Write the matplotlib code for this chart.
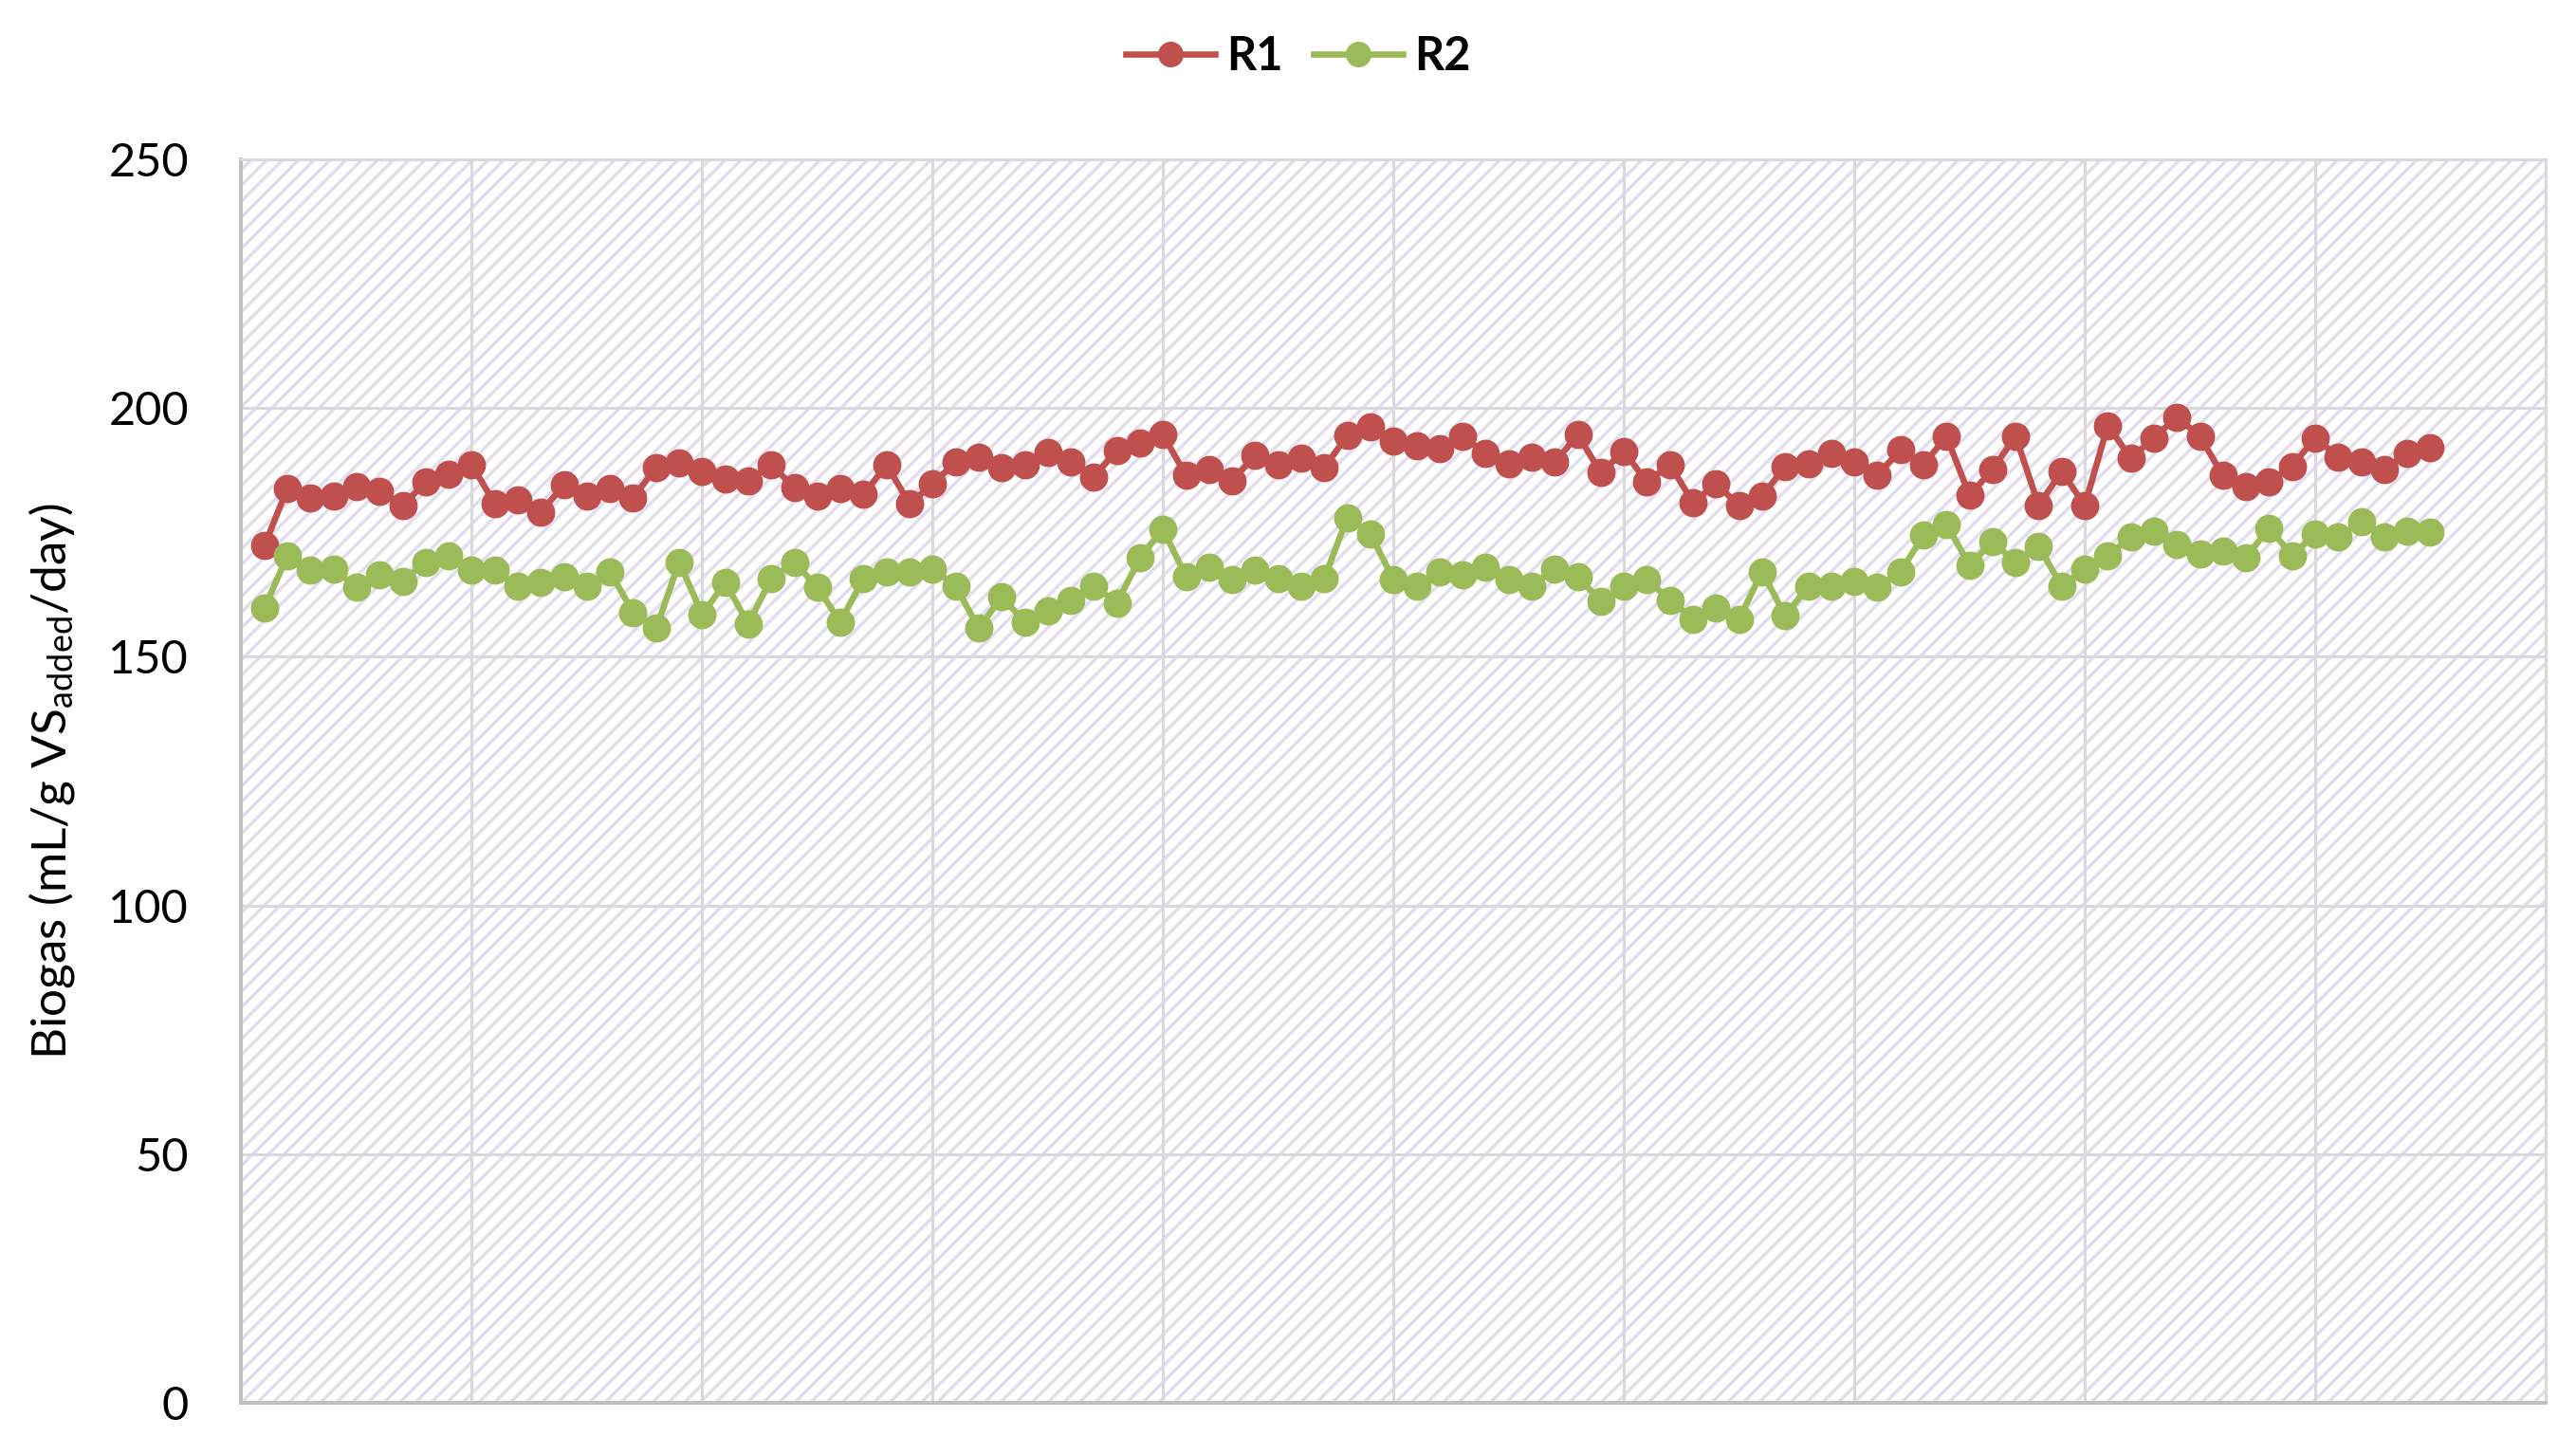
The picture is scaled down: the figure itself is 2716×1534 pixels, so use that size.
import numpy as np
import matplotlib
matplotlib.use("Agg")
import matplotlib.pyplot as plt
from matplotlib.patches import Rectangle

plt.rcParams['font.family'] = ['Lato', 'DejaVu Sans']
plt.rcParams['mathtext.fontset'] = 'custom'
plt.rcParams['mathtext.rm'] = 'Lato'
plt.rcParams['mathtext.it'] = 'Lato'
plt.rcParams['hatch.linewidth'] = 2.6

series_names = ["R1", "R2"]
r1 = [172.3, 183.9, 182.0, 182.3, 184.2, 183.2, 180.4, 185.1, 186.7, 188.6,
      180.7, 181.6, 179.1, 184.5, 182.3, 183.9, 182.0, 188.0, 188.9, 187.3,
      185.8, 185.4, 188.6, 184.0, 182.3, 183.9, 182.6, 188.6, 180.7, 184.8,
      189.1, 190.2, 188.0, 188.6, 191.0, 189.1, 186.2, 191.5, 193.0, 194.6,
      186.4, 187.7, 185.4, 190.5, 188.6, 189.9, 188.0, 194.5, 196.2, 193.4,
      192.4, 191.8, 194.3, 190.8, 188.7, 190.2, 189.1, 194.6, 187.0, 191.3,
      185.1, 188.6, 181.0, 184.8, 180.4, 182.3, 188.3, 188.7, 190.8, 189.2,
      186.5, 191.6, 188.6, 194.3, 182.4, 187.7, 194.3, 180.4, 187.3, 180.4,
      196.5, 189.9, 194.0, 198.2, 194.3, 186.4, 184.2, 185.1, 188.3, 194.0,
      190.2, 189.2, 187.7, 190.8, 192.1]
r2 = [159.8, 170.3, 167.4, 167.7, 163.9, 166.5, 165.2, 169.0, 170.3, 167.4,
      167.4, 164.2, 164.9, 166.1, 164.2, 167.1, 158.9, 155.7, 169.0, 158.5,
      164.9, 156.6, 165.8, 169.0, 163.9, 157.0, 165.8, 167.1, 167.0, 167.7,
      164.2, 155.7, 162.0, 157.0, 159.2, 161.4, 164.2, 160.8, 169.9, 175.6,
      166.1, 168.0, 165.5, 167.4, 165.8, 164.2, 165.8, 178.0, 174.7, 165.5,
      164.2, 167.1, 166.5, 168.0, 165.5, 164.2, 167.7, 166.1, 161.1, 164.2,
      165.5, 161.4, 157.6, 159.8, 157.6, 167.1, 158.2, 164.2, 164.2, 165.2,
      163.9, 167.0, 174.4, 176.6, 168.4, 173.1, 169.0, 172.2, 164.2, 167.7,
      170.3, 174.1, 175.3, 172.5, 170.6, 171.2, 169.9, 175.9, 170.3, 174.7,
      174.1, 177.2, 174.1, 175.3, 175.0]
days = np.arange(1, len(r1) + 1)
y_ticks = [0, 50, 100, 150, 200, 250]
x_grid = [0, 10, 20, 30, 40, 50, 60, 70, 80, 90, 100]
y_label = r"Biogas (mL/g VS$_{\mathrm{added}}$/day)"

fig = plt.figure(figsize=(27.16, 15.34), dpi=100)
ax = fig.add_axes([0.0937, 0.0359, 0.8945, 0.8546])

ax.set_facecolor('white')
ax.add_patch(Rectangle((0, 0), 1, 1, transform=ax.transAxes, facecolor='white',
                       edgecolor='#E3DDEE', hatch='//', linewidth=0, zorder=0))

ax.plot(days, r1, color='#C0504D', lw=4.8, marker='o', ms=20.5, label=series_names[0], zorder=3)
ax.plot(days, r2, color='#9BBB59', lw=4.8, marker='o', ms=20.5, label=series_names[1], zorder=3)

ax.set_xlim(0, 100)
ax.set_ylim(0, 250)
ax.set_xticks(x_grid)
ax.set_yticks(y_ticks)
ax.set_xticklabels([])
ax.grid(True, color='#D9D9D9', lw=2.2, zorder=1)
ax.set_axisbelow(True)
ax.tick_params(axis='both', length=0, labelsize=35, pad=40)
for s in ['top', 'right']:
    ax.spines[s].set_color('#D9D9D9')
    ax.spines[s].set_linewidth(2.2)
for s in ['left', 'bottom']:
    ax.spines[s].set_color('#BFBFBF')
    ax.spines[s].set_linewidth(2.8)

ax.set_ylabel(y_label, fontsize=37, labelpad=24)

leg = fig.legend(loc='center', bbox_to_anchor=(0.504, 0.961), ncol=2, frameon=False,
                 prop={'weight': 'bold', 'size': 35}, handlelength=1.95,
                 columnspacing=0.65, handletextpad=0.25, markerscale=0.9)

fig.savefig('out.png', dpi=100)
